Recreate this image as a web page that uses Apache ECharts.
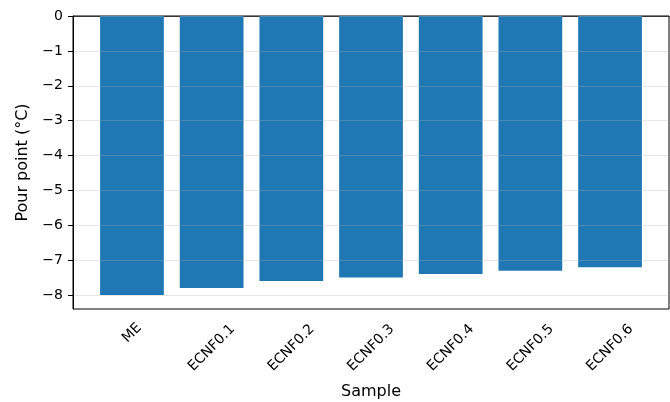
<!DOCTYPE html>
<html><head><meta charset="utf-8">
<script src="https://cdn.jsdelivr.net/npm/echarts@6/dist/echarts.min.js"></script>
<style>html,body{margin:0;padding:0;background:#fff}#c{width:670px;height:402px}</style>
</head><body><div id="c"></div>
<script>
const categories = ['ME','ECNF0.1','ECNF0.2','ECNF0.3','ECNF0.4','ECNF0.5','ECNF0.6'];
const pourPoint = [-8.0, -7.8, -7.6, -7.5, -7.4, -7.3, -7.2];
const yTicks = [0, -1, -2, -3, -4, -5, -6, -7, -8];

const xIdx = categories.map((_, i) => i);
const longIdx = xIdx.filter(i => categories[i].length > 3);
const shortIdx = xIdx.filter(i => categories[i].length <= 3);
const font = 'DejaVu Sans';
const labelBase = {rotate: 45, align: 'center', verticalAlign: 'middle', fontFamily: font, fontSize: 14, color: '#000',
  formatter: v => categories[Math.round(v)]};
const chart = echarts.init(document.getElementById('c'), null, {renderer: 'canvas'});
chart.setOption({
  animation: false,
  grid: {left: 73, right: 1, top: 16, bottom: 93, containLabel: false, outerBoundsMode: 'none',
    show: true, borderColor: '#000', borderWidth: 1, backgroundColor: 'transparent'},
  xAxis: [{
    type: 'value', min: -0.74, max: 6.74, position: 'bottom',
    name: 'Sample', nameLocation: 'middle', nameGap: 75,
    nameTextStyle: {fontFamily: font, fontSize: 16, color: '#000'},
    axisLine: {show: true, lineStyle: {color: '#000', width: 1}},
    axisTick: {show: true, length: 5, customValues: xIdx, lineStyle: {color: '#000', width: 1}},
    axisLabel: Object.assign({customValues: longIdx, margin: 39}, labelBase),
    splitLine: {show: false}
  }, {
    type: 'value', min: -0.74, max: 6.74, position: 'bottom',
    axisLine: {show: false}, axisTick: {show: false},
    axisLabel: Object.assign({customValues: shortIdx, margin: 24}, labelBase),
    splitLine: {show: false}
  }],
  yAxis: {
    type: 'value', min: -8.4, max: 0, interval: 1, z: 3,
    name: 'Pour point (°C)', nameLocation: 'middle', nameGap: 42,
    nameTextStyle: {fontFamily: font, fontSize: 16, color: '#000'},
    axisLine: {show: true, onZero: false, lineStyle: {color: '#000', width: 1}},
    axisTick: {show: true, length: 5, customValues: yTicks, lineStyle: {color: '#000', width: 1}},
    axisLabel: {customValues: yTicks, margin: 10, fontFamily: font, fontSize: 14, color: '#000',
      formatter: v => String(v).replace('-', '\u2212')},
    splitLine: {show: true, lineStyle: {color: 'rgba(176,176,176,0.3)', width: 1}}
  },
  series: [{
    type: 'bar',
    xAxisIndex: 0,
    data: pourPoint.map((v, i) => [i, v]),
    barWidth: '80%',
    itemStyle: {color: '#1f77b4'}
  }]
});
</script></body></html>
